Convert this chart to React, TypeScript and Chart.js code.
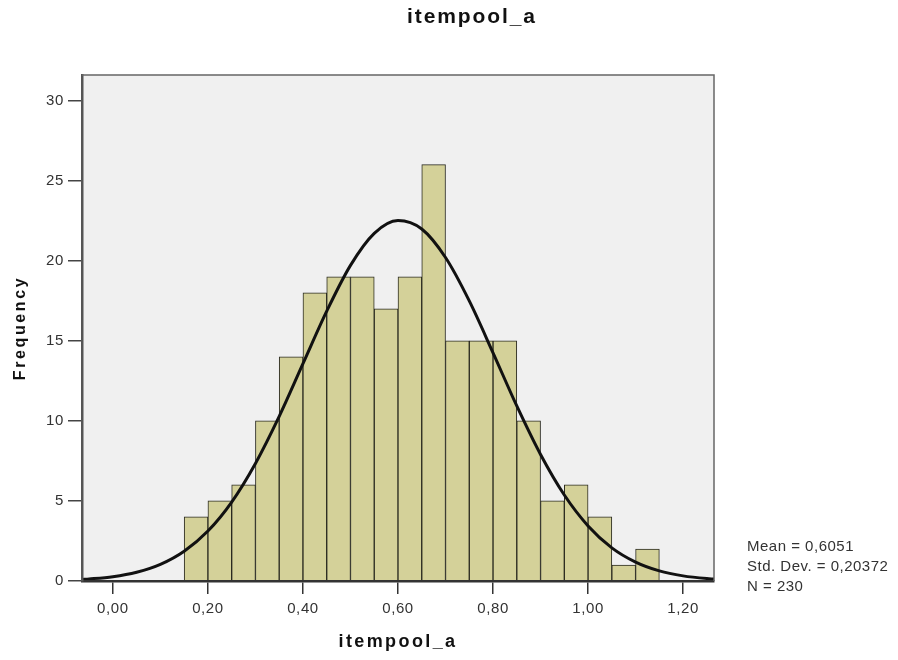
import React, { useEffect, useRef } from "react";
import { Chart, registerables } from "chart.js";

Chart.register(...registerables);

const chartTitle = "itempool_a";
const xAxisTitle = "itempool_a";
const yAxisTitle = "Frequency";
const statsLines = ["Mean = 0,6051", "Std. Dev. = 0,20372", "N = 230"];

// Histogram bins (centre of each 0.05-wide bin) and counts
const binCenters = [
  0.175, 0.225, 0.275, 0.325, 0.375, 0.425, 0.475, 0.525, 0.575, 0.625,
  0.675, 0.725, 0.775, 0.825, 0.875, 0.925, 0.975, 1.025, 1.075, 1.125,
];
const frequencies = [4, 5, 6, 10, 14, 18, 19, 19, 17, 19, 26, 15, 15, 15, 10, 5, 6, 4, 1, 2];

// Normal curve
const curveX = [
  -0.065, -0.05, 0.0, 0.05, 0.1, 0.15, 0.2, 0.25, 0.3, 0.35, 0.4, 0.45, 0.5, 0.55, 0.6,
  0.65, 0.7, 0.75, 0.8, 0.85, 0.9, 0.95, 1.0, 1.05, 1.1, 1.15, 1.2, 1.25, 1.265,
];
const curveY = [
  0.1, 0.13, 0.27, 0.55, 1.04, 1.86, 3.12, 4.93, 7.34, 10.28, 13.57, 16.85, 19.71, 21.71, 22.51,
  21.98, 20.2, 17.49, 14.25, 10.93, 7.9, 5.37, 3.44, 2.07, 1.18, 0.63, 0.32, 0.15, 0.12,
];

const xTickValues = [0, 0.2, 0.4, 0.6, 0.8, 1.0, 1.2];
const yTickValues = [0, 5, 10, 15, 20, 25, 30];
const xMin = -0.065;
const xMax = 1.265;
const yMax = 31.6;

const FONT = "'Liberation Sans', Arial, Helvetica, sans-serif";

function spaceText(scale: any, titleSpacing: string, labelSpacing: string) {
  if (scale.__spaced) return;
  scale.__spaced = true;
  const origTitle = scale.drawTitle.bind(scale);
  const origLabels = scale.drawLabels.bind(scale);
  scale.drawTitle = (...args: any[]) => {
    const ctx = scale.ctx;
    const prev = ctx.letterSpacing;
    ctx.letterSpacing = titleSpacing;
    origTitle(...args);
    ctx.letterSpacing = prev || "0px";
  };
  scale.drawLabels = (...args: any[]) => {
    const ctx = scale.ctx;
    const prev = ctx.letterSpacing;
    ctx.letterSpacing = labelSpacing;
    origLabels(...args);
    ctx.letterSpacing = prev || "0px";
  };
}

const framePlugin = {
  id: "frame",
  beforeDraw(chart: any) {
    const { ctx, chartArea } = chart;
    ctx.save();
    ctx.fillStyle = "#f0f0f0";
    ctx.fillRect(chartArea.left, chartArea.top, chartArea.right - chartArea.left, chartArea.bottom - chartArea.top);
    ctx.restore();
  },
  afterDraw(chart: any) {
    const { ctx, chartArea } = chart;
    ctx.save();
    ctx.strokeStyle = "#666";
    ctx.lineWidth = 1.5;
    ctx.beginPath();
    ctx.moveTo(chartArea.left, chartArea.top);
    ctx.lineTo(chartArea.right, chartArea.top);
    ctx.lineTo(chartArea.right, chartArea.bottom);
    ctx.stroke();

    ctx.fillStyle = "#111";
    ctx.font = `bold 21px ${FONT}`;
    ctx.letterSpacing = "1.9px";
    ctx.textAlign = "left";
    ctx.textBaseline = "alphabetic";
    ctx.fillText(chartTitle, 407, 23);

    ctx.fillStyle = "#333";
    ctx.font = `15px ${FONT}`;
    ctx.letterSpacing = "0.5px";
    statsLines.forEach((line, i) => {
      ctx.fillText(line, 747, 550.5 + i * 20);
    });
    ctx.restore();
  },
};

export default function App() {
  const canvasRef = useRef<HTMLCanvasElement | null>(null);

  useEffect(() => {
    if (!canvasRef.current) return;
    const chart = new Chart(canvasRef.current, {
      type: "bar",
      data: {
        datasets: [
          {
            type: "line",
            label: "Normal",
            data: curveX.map((x, i) => ({ x, y: curveY[i] })),
            borderColor: "#111",
            borderWidth: 3,
            pointRadius: 0,
            cubicInterpolationMode: "monotone",
            fill: false,
            order: 0,
          } as any,
          {
            type: "bar",
            label: "Frequency",
            data: binCenters.map((x, i) => ({ x, y: frequencies[i] })),
            backgroundColor: "#d4d199",
            borderColor: "#2a2a20",
            borderWidth: 1,
            barPercentage: 1,
            categoryPercentage: 1,
            order: 1,
          } as any,
        ],
      },
      options: {
        responsive: true,
        maintainAspectRatio: false,
        animation: false,
        layout: { padding: { top: 75, right: 184, left: 0, bottom: 0 } },
        plugins: {
          legend: { display: false },
          tooltip: { enabled: false },
          title: { display: false },
        },
        scales: {
          x: {
            type: "linear",
            min: xMin,
            max: xMax,
            offset: false,
            afterBuildTicks: (scale: any) => {
              scale.ticks = xTickValues.map((v) => ({ value: v }));
            },
            afterFit: (scale: any) => {
              scale.height = 79;
              spaceText(scale, "2.4px", "0.6px");
            },
            ticks: {
              autoSkip: false,
              maxRotation: 0,
              padding: 6,
              color: "#333",
              font: { family: FONT, size: 15 },
              callback: (v: any) => Number(v).toFixed(2).replace(".", ","),
            },
            grid: {
              offset: false,
              drawOnChartArea: false,
              drawTicks: true,
              tickLength: 13,
              color: "#333",
              lineWidth: 1.5,
            },
            border: { display: true, color: "#333", width: 2.5, z: 1 },
            title: {
              display: true,
              text: xAxisTitle,
              color: "#111",
              font: { family: FONT, size: 18, weight: "bold" },
              padding: { top: 0, bottom: 7 },
            },
          },
          y: {
            type: "linear",
            min: 0,
            max: yMax,
            afterBuildTicks: (scale: any) => {
              scale.ticks = yTickValues.map((v) => ({ value: v }));
            },
            afterFit: (scale: any) => {
              scale.width = 82;
              spaceText(scale, "2.6px", "0.6px");
            },
            ticks: {
              padding: 4,
              color: "#333",
              font: { family: FONT, size: 15 },
            },
            grid: {
              drawOnChartArea: false,
              drawTicks: true,
              tickLength: 14,
              color: "#444",
              lineWidth: 1.5,
            },
            border: { display: true, color: "#555", width: 2.5, z: 1 },
            title: {
              display: true,
              text: yAxisTitle,
              color: "#111",
              font: { family: FONT, size: 16, weight: "bold" },
              padding: { top: 11, bottom: 0 },
            },
          },
        },
      },
      plugins: [framePlugin],
    });
    return () => chart.destroy();
  }, []);

  return (
    <div style={{ position: "fixed", left: 0, top: 0, width: 898, height: 660, background: "#fff" }}>
      <canvas ref={canvasRef} />
    </div>
  );
}
